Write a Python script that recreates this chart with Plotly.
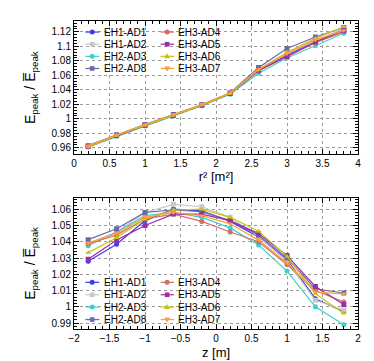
"""
Peak energy ratio vs r^2 and z for the eight ADs (ROOT-style two panel figure)
"""
import plotly.graph_objects as go
from plotly.subplots import make_subplots

# detector names, colours, marker symbols
names = ['EH1-AD1', 'EH1-AD2', 'EH2-AD3', 'EH2-AD8',
         'EH3-AD4', 'EH3-AD5', 'EH3-AD6', 'EH3-AD7']
colors = ['#3b3bf2', '#c8c8c8', '#3fcfcf', '#6a6aa6',
          '#d26c66', '#9c2ea0', '#c6c612', '#ff9c3c']
symbols = ['circle', 'square', 'circle', 'square',
           'circle', 'square', 'triangle-up', 'triangle-down']

# top panel: r^2 [m^2]
r2 = [0.2, 0.6, 1.0, 1.4, 1.8, 2.2, 2.6, 3.0, 3.4, 3.8]
r2_ad1 = [0.963, 0.977, 0.991, 1.005, 1.019, 1.035, 1.067, 1.088, 1.107, 1.123]
r2_ad2 = [0.963, 0.978, 0.992, 1.005, 1.019, 1.035, 1.068, 1.090, 1.108, 1.125]
r2_ad3 = [0.961, 0.976, 0.990, 1.004, 1.018, 1.034, 1.063, 1.084, 1.101, 1.118]
r2_ad8 = [0.963, 0.978, 0.992, 1.006, 1.019, 1.036, 1.071, 1.097, 1.113, 1.126]
r2_ad4 = [0.962, 0.977, 0.991, 1.005, 1.019, 1.035, 1.066, 1.086, 1.105, 1.120]
r2_ad5 = [0.962, 0.977, 0.991, 1.005, 1.019, 1.035, 1.067, 1.086, 1.106, 1.122]
r2_ad6 = [0.961, 0.977, 0.991, 1.005, 1.019, 1.035, 1.068, 1.092, 1.111, 1.127]
r2_ad7 = [0.963, 0.978, 0.992, 1.006, 1.020, 1.036, 1.068, 1.090, 1.109, 1.122]

# bottom panel: z [m]
z = [-1.8, -1.4, -1.0, -0.6, -0.2, 0.2, 0.6, 1.0, 1.4, 1.8]
z_ad1 = [1.028, 1.0385, 1.053, 1.060, 1.059, 1.0525, 1.043, 1.029, 1.005, 0.997]
z_ad2 = [1.039, 1.046, 1.058, 1.063, 1.0615, 1.055, 1.043, 1.028, 1.004, 0.998]
z_ad3 = [1.0375, 1.046, 1.056, 1.058, 1.055, 1.0485, 1.038, 1.022, 1.000, 0.989]
z_ad8 = [1.0413, 1.048, 1.058, 1.0595, 1.0585, 1.053, 1.044, 1.030, 1.011, 1.0085]
z_ad4 = [1.0388, 1.044, 1.054, 1.057, 1.0525, 1.046, 1.040, 1.026, 1.010, 1.003]
z_ad5 = [1.0293, 1.041, 1.050, 1.057, 1.057, 1.053, 1.045, 1.0315, 1.0125, 1.0015]
z_ad6 = [1.0333, 1.0425, 1.054, 1.0595, 1.060, 1.055, 1.0465, 1.031, 1.008, 0.996]
z_ad7 = [1.0393, 1.045, 1.055, 1.058, 1.056, 1.051, 1.041, 1.027, 1.009, 1.008]

r2_series = [r2_ad1, r2_ad2, r2_ad3, r2_ad8, r2_ad4, r2_ad5, r2_ad6, r2_ad7]
z_series = [z_ad1, z_ad2, z_ad3, z_ad8, z_ad4, z_ad5, z_ad6, z_ad7]

FONT = 'Liberation Sans, Arial, sans-serif'

fig = make_subplots(rows=2, cols=1, vertical_spacing=0.14)

for name, col, sym, yr, yz in zip(names, colors, symbols, r2_series, z_series):
    for row, xv, yv in ((1, r2, yr), (2, z, yz)):
        fig.add_trace(
            go.Scatter(
                x=xv, y=yv, mode='lines+markers', name=name,
                line=dict(color=col, width=1.2),
                marker=dict(symbol=sym, size=5, color=col),
                showlegend=False
            ),
            row=row, col=1
        )

# hand-made compact legends (ROOT-like spacing is tighter than plotly's legend allows)
shapes = []
annotations = []
legend_rows = {1: [0.917, 0.826, 0.735, 0.644], 2: [0.356, 0.261, 0.167, 0.072]}
legend_cols = [(0.040, 0.089, 0.064, 0.100), (0.305, 0.352, 0.328, 0.358)]
for row, xr, yr in ((1, 'x domain', 'y domain'), (2, 'x2 domain', 'y2 domain')):
    for i, (name, col, sym) in enumerate(zip(names, colors, symbols)):
        x0, x1, xm, xt = legend_cols[i // 4]
        yy = legend_rows[row][i % 4]
        shapes.append(dict(type='line', xref=xr, yref=yr, x0=x0, x1=x1, y0=yy, y1=yy,
                           line=dict(color=col, width=1.2)))
        common = dict(xref=xr, yref=yr, xsizemode='pixel', ysizemode='pixel',
                      xanchor=xm, yanchor=yy, fillcolor=col, line=dict(width=0))
        if sym == 'circle':
            shapes.append(dict(type='circle', x0=-2.5, x1=2.5, y0=-2.5, y1=2.5, **common))
        elif sym == 'square':
            shapes.append(dict(type='rect', x0=-2.3, x1=2.3, y0=-2.3, y1=2.3, **common))
        elif sym == 'triangle-up':
            shapes.append(dict(type='path', path='M-3,-2 L3,-2 L0,3 Z', **common))
        else:
            shapes.append(dict(type='path', path='M-3,2 L3,2 L0,-3 Z', **common))
        annotations.append(dict(xref=xr, yref=yr, x=xt, y=yy, text=name, showarrow=False,
                                xanchor='left', yanchor='middle',
                                font=dict(family=FONT, size=10, color='black')))

fig.update_layout(
    width=374, height=361,
    margin=dict(l=66, r=24, t=12, b=34),
    paper_bgcolor='white', plot_bgcolor='white',
    font=dict(family=FONT, size=10, color='black'),
    showlegend=False,
    shapes=shapes,
    annotations=annotations,
)

axis_style = dict(
    showline=True, linecolor='black', linewidth=1, mirror='allticks',
    ticks='inside', ticklen=5, tickcolor='black',
    showgrid=True, gridcolor='#9a9a9a', griddash='dot', gridwidth=1,
    zeroline=False, tickfont=dict(family=FONT, size=10, color='black'),
)

fig.update_xaxes(**axis_style)
fig.update_yaxes(**axis_style)

fig.update_xaxes(domain=[0, 1])
fig.update_yaxes(domain=[0.567, 1.0], row=1, col=1)
fig.update_yaxes(domain=[0.0, 0.426], row=2, col=1)

ytitle = 'E<sub>peak</sub> / E\u0305<sub>peak</sub>'

fig.update_xaxes(range=[0, 4], dtick=0.5, tick0=0,
                 minor=dict(ticks='inside', ticklen=3, dtick=0.1, tickcolor='black', showgrid=False),
                 title=dict(text='r\u00b2 [m\u00b2]', font=dict(size=13), standoff=0),
                 row=1, col=1)
fig.update_yaxes(range=[0.951, 1.135], dtick=0.02, tick0=0.96,
                 minor=dict(ticks='inside', ticklen=3, dtick=0.004, tickcolor='black', showgrid=False),
                 title=dict(text=ytitle, font=dict(size=14), standoff=12),
                 row=1, col=1)
fig.update_xaxes(range=[-2, 2], dtick=0.5, tick0=0,
                 minor=dict(ticks='inside', ticklen=3, dtick=0.1, tickcolor='black', showgrid=False),
                 title=dict(text='z [m]', font=dict(size=13), standoff=4),
                 row=2, col=1)
fig.update_yaxes(range=[0.9864, 1.067], dtick=0.01, tick0=1.0,
                 minor=dict(ticks='inside', ticklen=3, dtick=0.002, tickcolor='black', showgrid=False),
                 title=dict(text=ytitle, font=dict(size=14), standoff=12),
                 row=2, col=1)

fig.write_html("out.html")
